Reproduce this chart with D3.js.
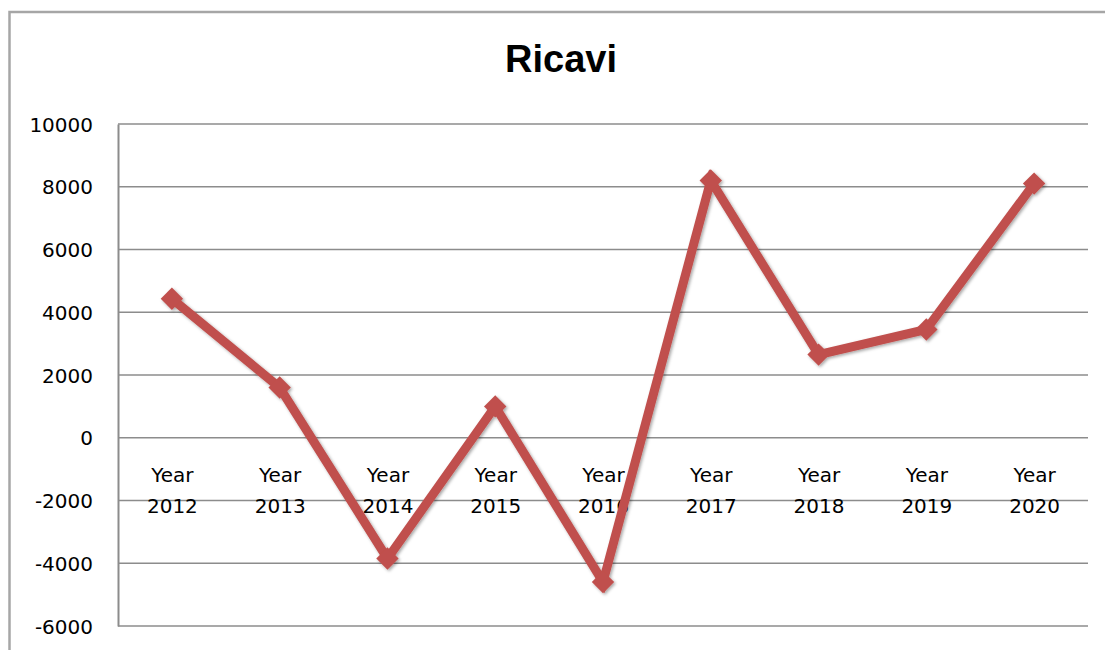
<!DOCTYPE html>
<html lang="it">
<head>
<meta charset="utf-8">
<title>Ricavi</title>
<script src="https://cdn.jsdelivr.net/npm/d3@7"></script>
<style>
  body { margin: 0; background: #fff; }
  .tick text { font-family: "DejaVu Sans", Verdana, sans-serif; font-size: 20px; fill: #000; }
</style>
</head>
<body>
<script>
// data
var categories = ["Year 2012", "Year 2013", "Year 2014", "Year 2015", "Year 2016",
                  "Year 2017", "Year 2018", "Year 2019", "Year 2020"];
var ricavi = [4430, 1600, -3850, 1000, -4600, 8200, 2650, 3450, 8100];
var yTicks = [-6000, -4000, -2000, 0, 2000, 4000, 6000, 8000, 10000];

var w = 1105, h = 650;
// plot area edges (note: "top" is reserved on window, so use other names)
var plotLeft = 118, plotRight = 1088, plotTop = 124, plotBottom = 626;

var svg = d3.select("body").append("svg")
  .attr("width", w)
  .attr("height", h);

// drop shadow for the line and markers
var defs = svg.append("defs");
var f = defs.append("filter").attr("id", "shadow")
  .attr("x", "-20%").attr("y", "-20%").attr("width", "140%").attr("height", "140%");
f.append("feDropShadow").attr("dx", 1.5).attr("dy", 1.5).attr("stdDeviation", 1.5)
  .attr("flood-color", "#000").attr("flood-opacity", 0.35);

// outer chart frame
svg.append("rect")
  .attr("x", 9.5).attr("y", 12)
  .attr("width", w + 20).attr("height", h + 20)
  .attr("fill", "none")
  .attr("stroke", "#a6a6a6")
  .attr("stroke-width", 2.5);

svg.append("text")
  .attr("x", 561).attr("y", 72)
  .attr("text-anchor", "middle")
  .attr("font-family", "Liberation Sans, Arial, sans-serif")
  .attr("font-weight", "bold")
  .attr("font-size", "38px")
  .text("Ricavi");

var x = d3.scalePoint().domain(categories).range([plotLeft, plotRight]).padding(0.5);
var y = d3.scaleLinear().domain([-6000, 10000]).range([plotBottom, plotTop]);

// gridlines
svg.append("g")
  .selectAll("line")
  .data(yTicks)
  .enter()
  .append("line")
  .attr("x1", plotLeft).attr("x2", plotRight)
  .attr("y1", function(d) { return y(d); })
  .attr("y2", function(d) { return y(d); })
  .attr("stroke", "#8c8c8c")
  .attr("stroke-width", 1.6);

// y axis - plain hyphen for negatives, like the original
var yAxis = d3.axisLeft(y).tickValues(yTicks).tickSize(0).tickPadding(25)
  .tickFormat(function(d) { return String(d); });
var gy = svg.append("g")
  .attr("transform", "translate(" + plotLeft + ",0)")
  .call(yAxis);
gy.select(".domain").attr("stroke", "#8c8c8c").attr("stroke-width", 2);
gy.selectAll(".tick text").attr("dy", "0.35em");

// x axis labels sit below the zero line, two lines each
var xAxis = d3.axisBottom(x).tickSize(0).tickFormat("");
var gx = svg.append("g")
  .attr("transform", "translate(0," + y(0) + ")")
  .call(xAxis);
gx.select(".domain").remove();
gx.selectAll(".tick").append("text")
  .attr("text-anchor", "middle")
  .selectAll("tspan")
  .data(function(d) { return d.split(" "); })
  .enter()
  .append("tspan")
  .attr("x", 0)
  .attr("y", function(d, i) { return 44 + i * 31; })
  .text(function(d) { return d; });

// series
var line = d3.line()
  .x(function(d, i) { return x(categories[i]); })
  .y(function(d) { return y(d); });

var series = svg.append("g").attr("filter", "url(#shadow)");

series.append("path")
  .datum(ricavi)
  .attr("d", line)
  .attr("fill", "none")
  .attr("stroke", "#c0504d")
  .attr("stroke-width", 9)
  .attr("stroke-linejoin", "miter");

series.selectAll(".marker")
  .data(ricavi)
  .enter()
  .append("path")
  .attr("class", "marker")
  .attr("d", d3.symbol().type(d3.symbolDiamond2).size(320))
  .attr("transform", function(d, i) {
    return "translate(" + x(categories[i]) + "," + y(d) + ")";
  })
  .attr("fill", "#c0504d");
</script>
</body>
</html>
